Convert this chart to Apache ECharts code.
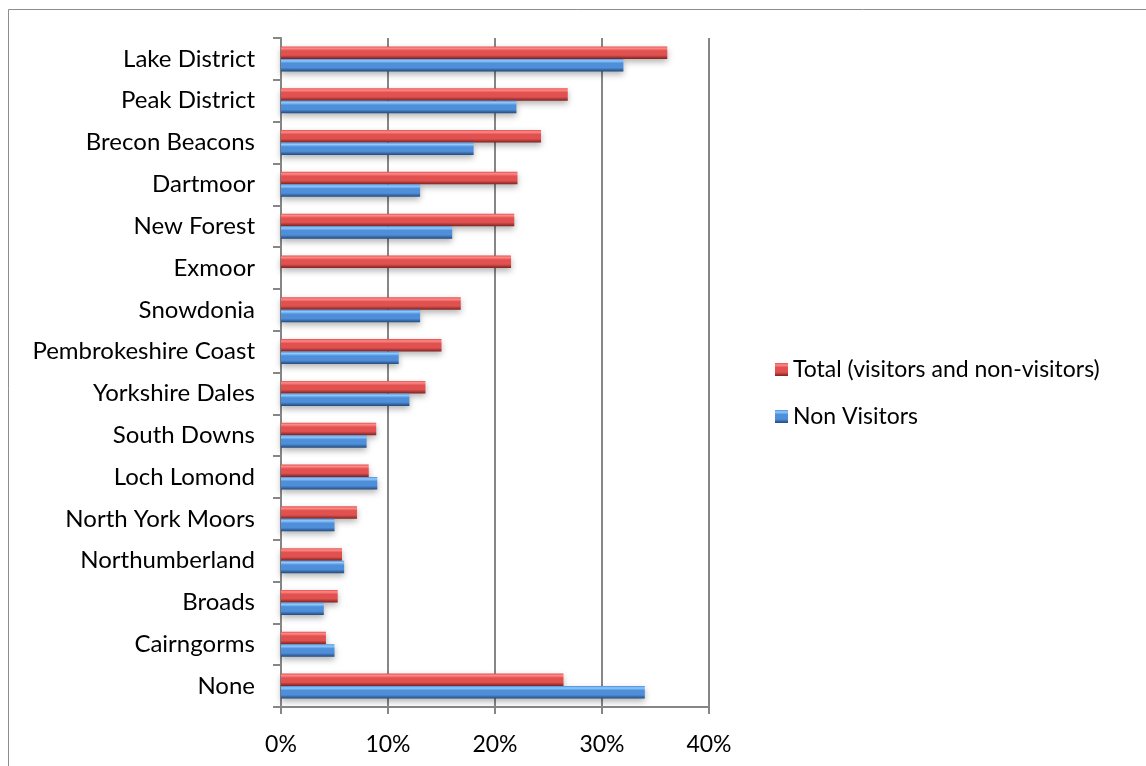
<!DOCTYPE html>
<html>
<head>
<meta charset="utf-8">
<script src="https://cdn.jsdelivr.net/npm/echarts@6/dist/echarts.min.js"></script>
<style>html,body{margin:0;padding:0;background:#fff}#c{width:1146px;height:766px}</style>
</head>
<body>
<div id="c"></div>
<script>
const categories = ['Lake District','Peak District','Brecon Beacons','Dartmoor','New Forest','Exmoor','Snowdonia','Pembrokeshire Coast','Yorkshire Dales','South Downs','Loch Lomond','North York Moors','Northumberland','Broads','Cairngorms','None'];
const totalValues = [36.1, 26.8, 24.3, 22.1, 21.8, 21.5, 16.8, 15.0, 13.5, 8.9, 8.2, 7.1, 5.7, 5.3, 4.2, 26.4];
const nonVisitorValues = [32, 22, 18, 13, 16, 0, 13, 11, 12, 8, 9, 5, 5.9, 4, 5, 34];
const xTicks = [0, 10, 20, 30, 40];
const seriesNames = ['Total (visitors and non-visitors)', 'Non Visitors'];

const FONT = 'Lato, "Open Sans", sans-serif';
const FS = 23;
function grad(top, hi, mid, bot) {
  return new echarts.graphic.LinearGradient(0, 0, 0, 1, [
    {offset: 0, color: mid}, {offset: 0.15, color: hi}, {offset: 0.35, color: mid}, {offset: 0.7, color: mid}, {offset: 1, color: bot}
  ]);
}
const chart = echarts.init(document.getElementById('c'), null, {renderer: 'canvas'});
chart.setOption({
  animation: false,
  backgroundColor: '#fff',
  graphic: [{type: 'rect', shape: {x: 8.5, y: 9.5, width: 1300, height: 900}, style: {fill: 'none', stroke: '#8c8c8c', lineWidth: 1}, silent: true, z: -10}],
  grid: {left: 281, right: 437, top: 38, bottom: 59, containLabel: false},
  legend: {
    orient: 'vertical', left: 770, top: 353, itemWidth: 13, itemHeight: 13, itemGap: 24,
    icon: 'rect',
    textStyle: {fontFamily: FONT, fontSize: FS, color: '#000'},
    data: seriesNames
  },
  xAxis: {
    type: 'value', min: xTicks[0], max: xTicks[xTicks.length - 1], interval: 10,
    axisLine: {show: true, lineStyle: {color: '#868686', width: 2}},
    axisTick: {show: true, length: 7, lineStyle: {color: '#868686', width: 2}},
    splitLine: {show: true, lineStyle: {color: '#868686', width: 2}},
    axisLabel: {formatter: v => v + '%', fontFamily: FONT, fontSize: FS, color: '#000', margin: 26}
  },
  yAxis: {
    type: 'category', data: categories, inverse: true,
    axisLine: {show: true, lineStyle: {color: '#868686', width: 2}},
    axisTick: {show: true, length: 8, lineStyle: {color: '#868686', width: 2}},
    axisLabel: {fontFamily: FONT, fontSize: 24, color: '#000', margin: 26}
  },
  series: [
    {name: seriesNames[0], type: 'bar', data: totalValues, barWidth: 12.5, barGap: '0%',
     itemStyle: {color: grad('#ff9696', '#ff8a88', '#e0514f', '#7e2321'),
       shadowColor: 'rgba(0,0,0,0.3)', shadowBlur: 6, shadowOffsetY: 3}},
    {name: seriesNames[1], type: 'bar', data: nonVisitorValues, barWidth: 12.5, barGap: '0%',
     itemStyle: {color: grad('#a2d4ff', '#8fcaff', '#4f8fd9', '#23497d'),
       shadowColor: 'rgba(0,0,0,0.3)', shadowBlur: 6, shadowOffsetY: 3}}
  ]
});
</script>
</body>
</html>
